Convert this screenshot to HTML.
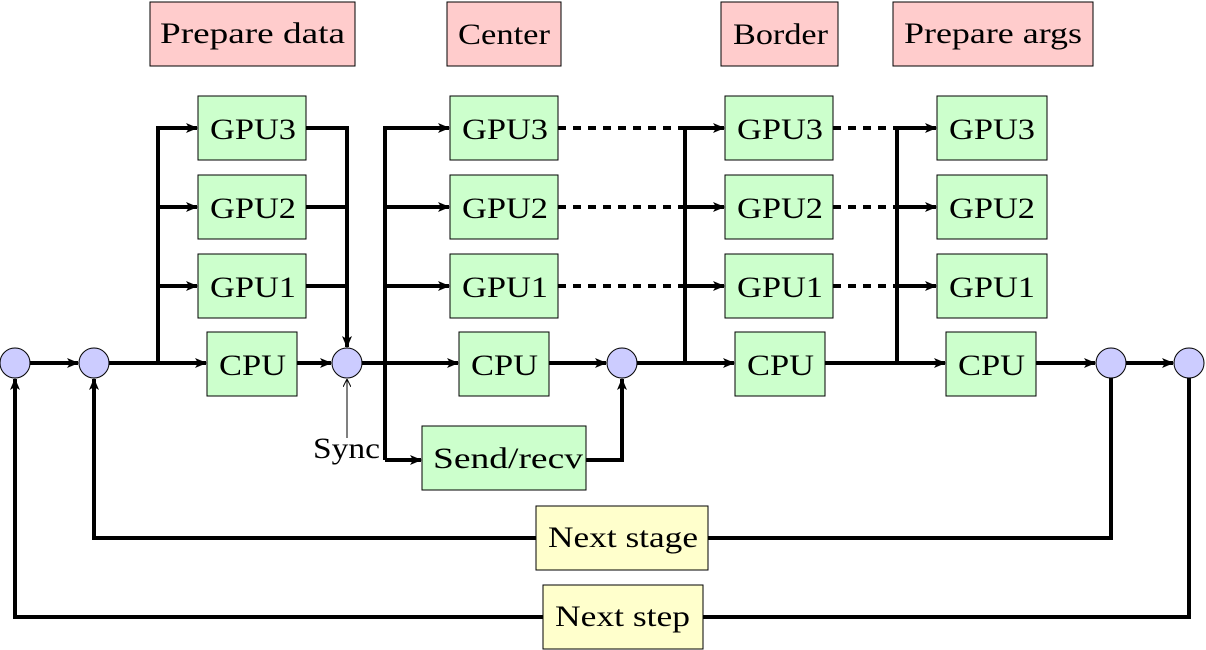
<!DOCTYPE html>
<html><head><meta charset="utf-8"><style>
html,body{margin:0;padding:0;background:#fff;}
svg{display:block;}
text{font-family:"Liberation Serif",serif;font-size:30px;fill:#000;}
</style></head><body>
<svg width="1206" height="650" viewBox="0 0 1206 650" xmlns="http://www.w3.org/2000/svg">
<defs>
<marker id="a" viewBox="0 0 12 10" refX="11" refY="5" markerWidth="12" markerHeight="10" markerUnits="userSpaceOnUse" orient="auto">
<path d="M0,0 L12,5 L0,10 L3,5 Z" fill="#000"/></marker>
<marker id="t" viewBox="0 0 8 8" refX="7" refY="4" markerWidth="8" markerHeight="8" markerUnits="userSpaceOnUse" orient="auto">
<path d="M0,0 L8,4 L0,8" fill="none" stroke="#000" stroke-width="1"/></marker>
</defs>
<g stroke="#000" stroke-width="4" fill="none">
<line x1="30" y1="363" x2="78" y2="363" marker-end="url(#a)"/>
<line x1="109" y1="363" x2="206" y2="363" marker-end="url(#a)"/>
<polyline points="158,363 158,128 197,128" marker-end="url(#a)"/>
<line x1="158" y1="207" x2="197" y2="207" marker-end="url(#a)"/>
<line x1="158" y1="286" x2="197" y2="286" marker-end="url(#a)"/>
<line x1="297" y1="363" x2="331" y2="363" marker-end="url(#a)"/>
<polyline points="306,128 347,128 347,347" marker-end="url(#a)"/>
<line x1="306" y1="207" x2="347" y2="207"/>
<line x1="306" y1="286" x2="347" y2="286"/>
<line x1="362" y1="363" x2="458" y2="363" marker-end="url(#a)"/>
<polyline points="385,460 385,128 449,128" marker-end="url(#a)"/>
<line x1="385" y1="207" x2="449" y2="207" marker-end="url(#a)"/>
<line x1="385" y1="286" x2="449" y2="286" marker-end="url(#a)"/>
<line x1="385" y1="460" x2="421" y2="460" marker-end="url(#a)"/>
<line x1="549" y1="363" x2="606" y2="363" marker-end="url(#a)"/>
<polyline points="586,460 622,460 622,379" marker-end="url(#a)"/>
<line x1="637" y1="363" x2="734" y2="363" marker-end="url(#a)"/>
<polyline points="685,363 685,128 724,128" marker-end="url(#a)"/>
<line x1="685" y1="207" x2="724" y2="207" marker-end="url(#a)"/>
<line x1="685" y1="286" x2="724" y2="286" marker-end="url(#a)"/>
<line x1="825" y1="363" x2="945" y2="363" marker-end="url(#a)"/>
<polyline points="897,363 897,128 936,128" marker-end="url(#a)"/>
<line x1="897" y1="207" x2="936" y2="207" marker-end="url(#a)"/>
<line x1="897" y1="286" x2="936" y2="286" marker-end="url(#a)"/>
<line x1="1036" y1="363" x2="1095" y2="363" marker-end="url(#a)"/>
<line x1="1126" y1="363" x2="1173" y2="363" marker-end="url(#a)"/>
<polyline points="1111,378 1111,538 94,538 94,379" marker-end="url(#a)"/>
<polyline points="1189,378 1189,617 15,617 15,379" marker-end="url(#a)"/>
</g>
<g stroke="#000" stroke-width="4" stroke-dasharray="8,7" fill="none">
<line x1="558" y1="128" x2="690" y2="128"/>
<line x1="558" y1="207" x2="690" y2="207"/>
<line x1="558" y1="286" x2="690" y2="286"/>
<line x1="833" y1="128" x2="900" y2="128"/>
<line x1="833" y1="207" x2="900" y2="207"/>
<line x1="833" y1="286" x2="900" y2="286"/>
</g>
<line x1="347" y1="438" x2="347" y2="380" stroke="#000" stroke-width="1" marker-end="url(#t)"/>
<text x="313" y="458" fill="#444" textLength="67" lengthAdjust="spacingAndGlyphs">Sync</text>
<g fill="#ccccff" stroke="#000" stroke-width="1">
<circle cx="15" cy="363" r="15"/><circle cx="94" cy="363" r="15"/>
<circle cx="347" cy="363" r="15"/><circle cx="622" cy="363" r="15"/>
<circle cx="1111" cy="363" r="15"/><circle cx="1189" cy="363" r="15"/>
</g>
<g fill="#ffcccc" stroke="#000" stroke-width="1">
<rect x="150" y="2" width="205" height="64"/>
<rect x="447" y="2" width="114" height="64"/>
<rect x="721" y="2" width="117" height="64"/>
<rect x="893" y="2" width="200" height="64"/>
</g>
<g fill="#ccffcc" stroke="#000" stroke-width="1">
<rect x="198" y="96" width="108" height="64"/><rect x="198" y="175" width="108" height="64"/><rect x="198" y="254" width="108" height="64"/><rect x="207" y="332" width="90" height="64"/>
<rect x="450" y="96" width="108" height="64"/><rect x="450" y="175" width="108" height="64"/><rect x="450" y="254" width="108" height="64"/><rect x="459" y="332" width="90" height="64"/>
<rect x="422" y="426" width="164" height="64"/>
<rect x="725" y="96" width="108" height="64"/><rect x="725" y="175" width="108" height="64"/><rect x="725" y="254" width="108" height="64"/><rect x="735" y="332" width="90" height="64"/>
<rect x="937" y="96" width="110" height="64"/><rect x="937" y="175" width="110" height="64"/><rect x="937" y="254" width="110" height="64"/><rect x="946" y="332" width="90" height="64"/>
</g>
<g fill="#ffffcc" stroke="#000" stroke-width="1">
<rect x="536" y="506" width="172" height="64"/>
<rect x="543" y="585" width="160" height="64"/>
</g>
<g lengthAdjust="spacingAndGlyphs">
<text x="160" y="43" textLength="185" lengthAdjust="spacingAndGlyphs">Prepare data</text>
<text x="458" y="44" textLength="92" lengthAdjust="spacingAndGlyphs">Center</text>
<text x="733" y="44" textLength="95" lengthAdjust="spacingAndGlyphs">Border</text>
<text x="904" y="43" textLength="178" lengthAdjust="spacingAndGlyphs">Prepare args</text>
<text x="210" y="139" textLength="86" lengthAdjust="spacingAndGlyphs">GPU3</text>
<text x="210" y="218" textLength="86" lengthAdjust="spacingAndGlyphs">GPU2</text>
<text x="210" y="297" textLength="86" lengthAdjust="spacingAndGlyphs">GPU1</text>
<text x="219" y="375" textLength="67" lengthAdjust="spacingAndGlyphs">CPU</text>
<text x="462" y="139" textLength="86" lengthAdjust="spacingAndGlyphs">GPU3</text>
<text x="462" y="218" textLength="86" lengthAdjust="spacingAndGlyphs">GPU2</text>
<text x="462" y="297" textLength="86" lengthAdjust="spacingAndGlyphs">GPU1</text>
<text x="471" y="375" textLength="67" lengthAdjust="spacingAndGlyphs">CPU</text>
<text x="433" y="468" textLength="150" lengthAdjust="spacingAndGlyphs">Send/recv</text>
<text x="737" y="139" textLength="86" lengthAdjust="spacingAndGlyphs">GPU3</text>
<text x="737" y="218" textLength="86" lengthAdjust="spacingAndGlyphs">GPU2</text>
<text x="737" y="297" textLength="86" lengthAdjust="spacingAndGlyphs">GPU1</text>
<text x="747" y="375" textLength="67" lengthAdjust="spacingAndGlyphs">CPU</text>
<text x="949" y="139" textLength="86" lengthAdjust="spacingAndGlyphs">GPU3</text>
<text x="949" y="218" textLength="86" lengthAdjust="spacingAndGlyphs">GPU2</text>
<text x="949" y="297" textLength="86" lengthAdjust="spacingAndGlyphs">GPU1</text>
<text x="958" y="375" textLength="67" lengthAdjust="spacingAndGlyphs">CPU</text>
<text x="548" y="547" textLength="150" lengthAdjust="spacingAndGlyphs">Next stage</text>
<text x="555" y="626" textLength="135" lengthAdjust="spacingAndGlyphs">Next step</text>
</g>
</svg>
</body></html>
